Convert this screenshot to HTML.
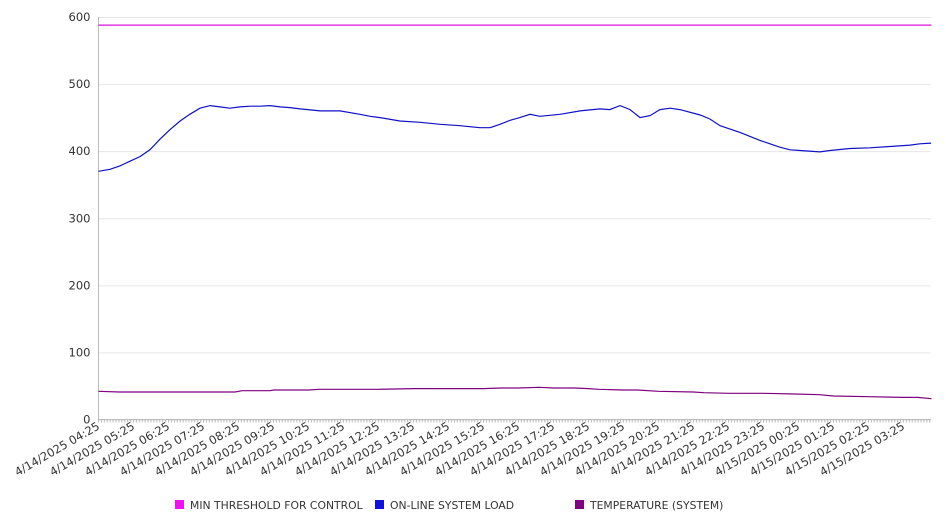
<!DOCTYPE html>
<html><head><meta charset="utf-8"><style>
body{margin:0;background:#fff;width:946px;height:526px;overflow:hidden;font-family:"DejaVu Sans","Liberation Sans",sans-serif;}
svg text{font-family:"DejaVu Sans","Liberation Sans",sans-serif;}
</style></head><body>
<svg id="chart" width="946" height="526" xmlns="http://www.w3.org/2000/svg">
<g id="grid"></g>
<g id="axes"></g>
<g id="series"></g>
<g id="legend"></g>
</svg>
<script>
const yTicks=[0,100,200,300,400,500,600];
const xLabels=["4/14/2025 04:25","4/14/2025 05:25","4/14/2025 06:25","4/14/2025 07:25","4/14/2025 08:25","4/14/2025 09:25","4/14/2025 10:25","4/14/2025 11:25","4/14/2025 12:25","4/14/2025 13:25","4/14/2025 14:25","4/14/2025 15:25","4/14/2025 16:25","4/14/2025 17:25","4/14/2025 18:25","4/14/2025 19:25","4/14/2025 20:25","4/14/2025 21:25","4/14/2025 22:25","4/14/2025 23:25","4/15/2025 00:25","4/15/2025 01:25","4/15/2025 02:25","4/15/2025 03:25"];
const threshHours=[0,23.8];
const threshVals=[588,588];
const loadHours=[0,0.33,0.61,0.9,1.19,1.47,1.76,2.04,2.33,2.61,2.9,3.19,3.47,3.76,4.04,4.33,4.61,4.9,5.19,5.47,5.76,6.33,6.9,7.47,7.76,8.04,8.61,9.19,9.76,10.33,10.9,11.19,11.47,11.76,12.04,12.33,12.61,13.19,13.76,14.33,14.61,14.9,15.19,15.47,15.76,16.04,16.33,16.61,17.19,17.47,17.76,18.33,18.9,19.47,19.76,20.04,20.61,20.9,21.47,22.04,22.61,23.19,23.47,23.79];
const loadVals=[370,373,378,385,392,402,418,432,445,455,464,468,466,464,466,467,467,468,466,465,463,460,460,455,452,450,445,443,440,438,435,435,440,446,450,455,452,455,460,463,462,468,462,450,453,462,464,462,454,448,438,428,416,406,402,401,399,401,404,405,407,409,411,412];
const tempHours=[0,0.6,1,2,3,3.9,4.1,4.9,5,6,6.3,7,8,9,9.3,10,11,11.5,12,12.6,13,13.6,14,14.3,15,15.4,16,17,17.3,18,19,19.9,20.6,21,22,23,23.4,23.8];
const tempVals=[42,41,41,41,41,41,43,43,44,44,45,45,45,46,46,46,46,47,47,48,47,47,46,45,44,44,42,41,40,39,39,38,37,35,34,33,33,31];
const X0=98.5,X1=931,HR=35,Y0=419.5,YS=0.6708;
const xs=h=>X0+h*HR, ys=v=>Y0-v*YS;
const NS="http://www.w3.org/2000/svg";
function mk(tag,par,attrs){const e=document.createElementNS(NS,tag);for(const k in attrs)e.setAttribute(k,attrs[k]);par.appendChild(e);return e;}
const grid=document.getElementById('grid'),axes=document.getElementById('axes'),series=document.getElementById('series'),legend=document.getElementById('legend');
yTicks.forEach(v=>{
 const l=mk('line',grid,{x1:X0,x2:X1,y1:ys(v)+0.5,y2:ys(v)+0.5,stroke:'#e6e6e6','stroke-width':1});
 
 
 const t=mk('text',axes,{x:X0-8,y:ys(v)+4,'text-anchor':'end','font-size':'11.5',fill:'#333'});
 t.textContent=v;
 
 
});
mk('line',axes,{x1:X0,x2:X0,y1:ys(600),y2:Y0,stroke:'#bbb','stroke-width':1});
mk('line',axes,{x1:X0,x2:X1,y1:Y0,y2:Y0,stroke:'#bbb','stroke-width':1});
for(let m=0;m<=23.8*60;m+=5){const x=xs(m/60);mk('line',axes,{x1:x,x2:x,y1:Y0,y2:Y0+3,stroke:'#bbb','stroke-width':1});}
xLabels.forEach((s,i)=>{
 const x=xs(i)+2,y=Y0+9;
 const t=mk('text',axes,{x:x,y:y,'text-anchor':'end','font-size':'11.5',fill:'#333',transform:`rotate(-30 ${x} ${y})`});
 t.textContent=s;
 
 
});
function line(hs,vs,col,name){
 const d=hs.map((h,i)=>(i?'L':'M')+xs(h).toFixed(1)+','+ys(vs[i]).toFixed(1)).join('');
 const p=mk('path',series,{d:d,fill:'none',stroke:col,'stroke-width':1.2});
 
 
}
line(threshHours,threshVals,'#e010e0','min-threshold-line');
line(loadHours,loadVals,'#1010c8','online-system-load-line');
line(tempHours,tempVals,'#800080','temperature-line');
const leg=[["MIN THRESHOLD FOR CONTROL","#f010f0",175],["ON-LINE SYSTEM LOAD","#1010e0",375],["TEMPERATURE (SYSTEM)","#800080",575]];
leg.forEach(([n,c,x])=>{
 const g=mk('g',legend,{});
 
 
 mk('rect',g,{x:x,y:500,width:9,height:9,fill:c});
 const t=mk('text',g,{x:x+15,y:509,'font-size':'10.8',fill:'#333'});
 t.textContent=n;
});
</script>
</body></html>
